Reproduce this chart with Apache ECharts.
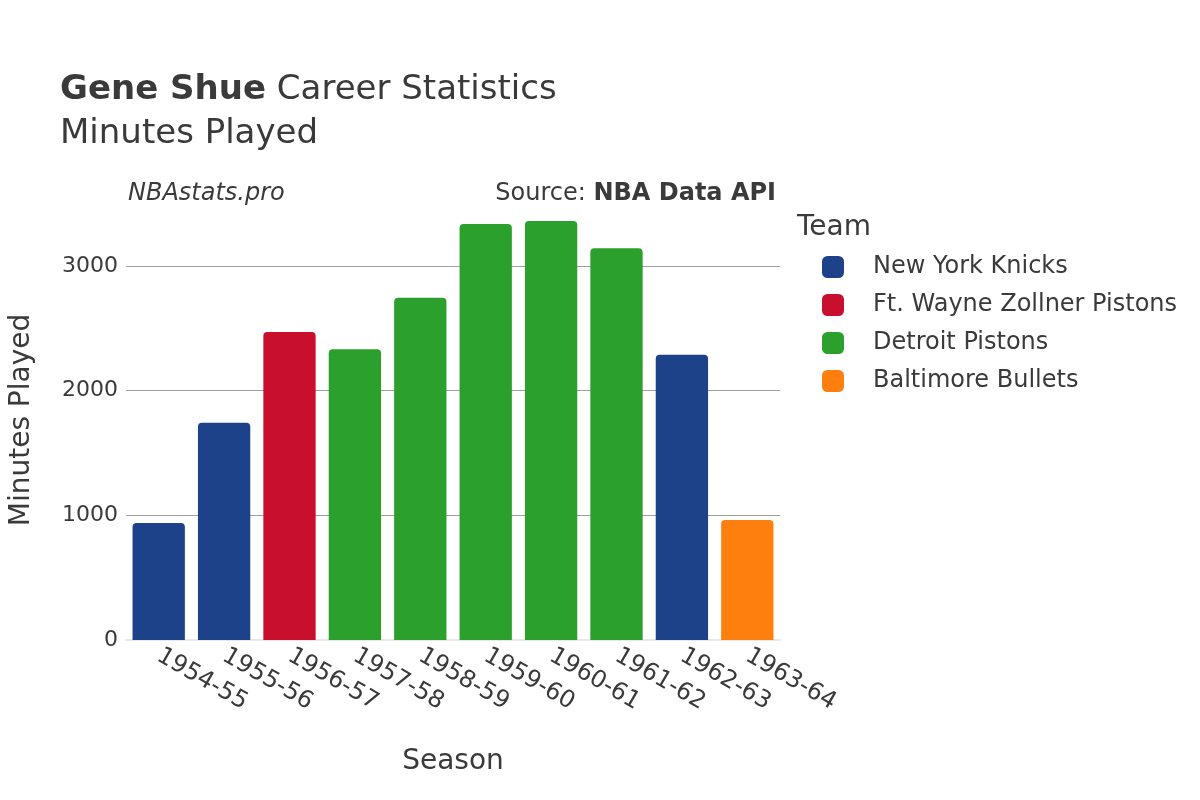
<!DOCTYPE html>
<html>
<head>
<meta charset="utf-8">
<title>Gene Shue Career Statistics</title>
<script src="https://cdn.jsdelivr.net/npm/echarts@6/dist/echarts.min.js"></script>
<style>
  html, body { margin: 0; padding: 0; background: #fff; }
  #chart { width: 1200px; height: 800px; }
</style>
</head>
<body>
<div id="chart"></div>
<script>
// data
const seasons = ['1954-55', '1955-56', '1956-57', '1957-58', '1958-59', '1959-60', '1960-61', '1961-62', '1962-63', '1963-64'];
const minutes = [939, 1743, 2470, 2333, 2745, 3338, 3361, 3143, 2288, 963];
const seasonTeams = ['New York Knicks', 'New York Knicks', 'Ft. Wayne Zollner Pistons', 'Detroit Pistons', 'Detroit Pistons',
  'Detroit Pistons', 'Detroit Pistons', 'Detroit Pistons', 'New York Knicks', 'Baltimore Bullets'];
const teams = ['New York Knicks', 'Ft. Wayne Zollner Pistons', 'Detroit Pistons', 'Baltimore Bullets'];
const teamColors = ['#1d428a', '#c8102e', '#2ca02c', '#ff7f0e'];
const yTicks = [0, 1000, 2000, 3000];

const font = 'DejaVu Sans';
const textColor = '#3a3a3a';

const chart = echarts.init(document.getElementById('chart'));

// one series per team, stacked so every bar sits centred on its season
const series = teams.map((team, i) => ({
  name: team,
  type: 'bar',
  stack: 'all',
  barCategoryGap: '20%',
  itemStyle: { color: teamColors[i], borderRadius: [4, 4, 0, 0] },
  data: minutes.map((v, k) => seasonTeams[k] === team ? v : '-')
}));

chart.setOption({
  animation: false,
  textStyle: { fontFamily: font },
  title: [
    {
      text: '{b|Gene Shue} Career Statistics\nMinutes Played',
      left: 55, top: 63,
      textStyle: {
        fontFamily: font, fontSize: 34, color: textColor, fontWeight: 'normal', lineHeight: 44,
        rich: { b: { fontFamily: font, fontSize: 34, fontWeight: 'bold', color: textColor } }
      }
    },
    {
      text: 'NBAstats.pro',
      left: 123, top: 177,
      textStyle: { fontFamily: font, fontSize: 24, fontStyle: 'italic', fontWeight: 'normal', color: textColor }
    },
    {
      text: 'Source: {b|NBA Data API}',
      right: 419, top: 177,
      textStyle: {
        fontFamily: font, fontSize: 24, fontWeight: 'normal', color: textColor,
        rich: { b: { fontFamily: font, fontSize: 24, fontWeight: 'bold', color: textColor } }
      }
    },
    {
      text: 'Team',
      left: 792, top: 209,
      textStyle: { fontFamily: font, fontSize: 28, fontWeight: 'normal', color: textColor }
    }
  ],
  legend: {
    data: teams,
    orient: 'vertical',
    left: 817, top: 250,
    itemWidth: 22, itemHeight: 22,
    itemGap: 14,
    icon: 'roundRect',
    textStyle: { fontFamily: font, fontSize: 24, color: textColor, padding: [0, 0, 0, 24] }
  },
  grid: { left: 122, right: 420, top: 200, bottom: 160, containLabel: false },
  xAxis: {
    type: 'category',
    data: seasons,
    name: 'Season',
    nameLocation: 'middle',
    nameGap: 108,
    nameTextStyle: { fontFamily: font, fontSize: 28, color: textColor },
    axisLine: { show: true, lineStyle: { color: '#e8e8e8', width: 2 } },
    axisTick: { show: false },
    axisLabel: { rotate: -30, fontFamily: font, fontSize: 24, color: textColor, margin: 14, interval: 0 }
  },
  yAxis: {
    type: 'value',
    min: 0, max: 3530, interval: 1000,
    name: 'Minutes Played',
    nameLocation: 'middle',
    nameGap: 90,
    nameTextStyle: { fontFamily: font, fontSize: 28, color: textColor },
    axisLine: { show: false },
    axisTick: { show: false },
    axisLabel: {
      fontFamily: font, fontSize: 22, color: textColor, margin: 8, showMaxLabel: false,
      formatter: v => yTicks.includes(v) ? String(v) : ''
    },
    splitLine: { show: true, showMinLine: false, showMaxLine: false, lineStyle: { color: '#a0a0a0', width: 1 } }
  },
  series: series
});
</script>
</body>
</html>
